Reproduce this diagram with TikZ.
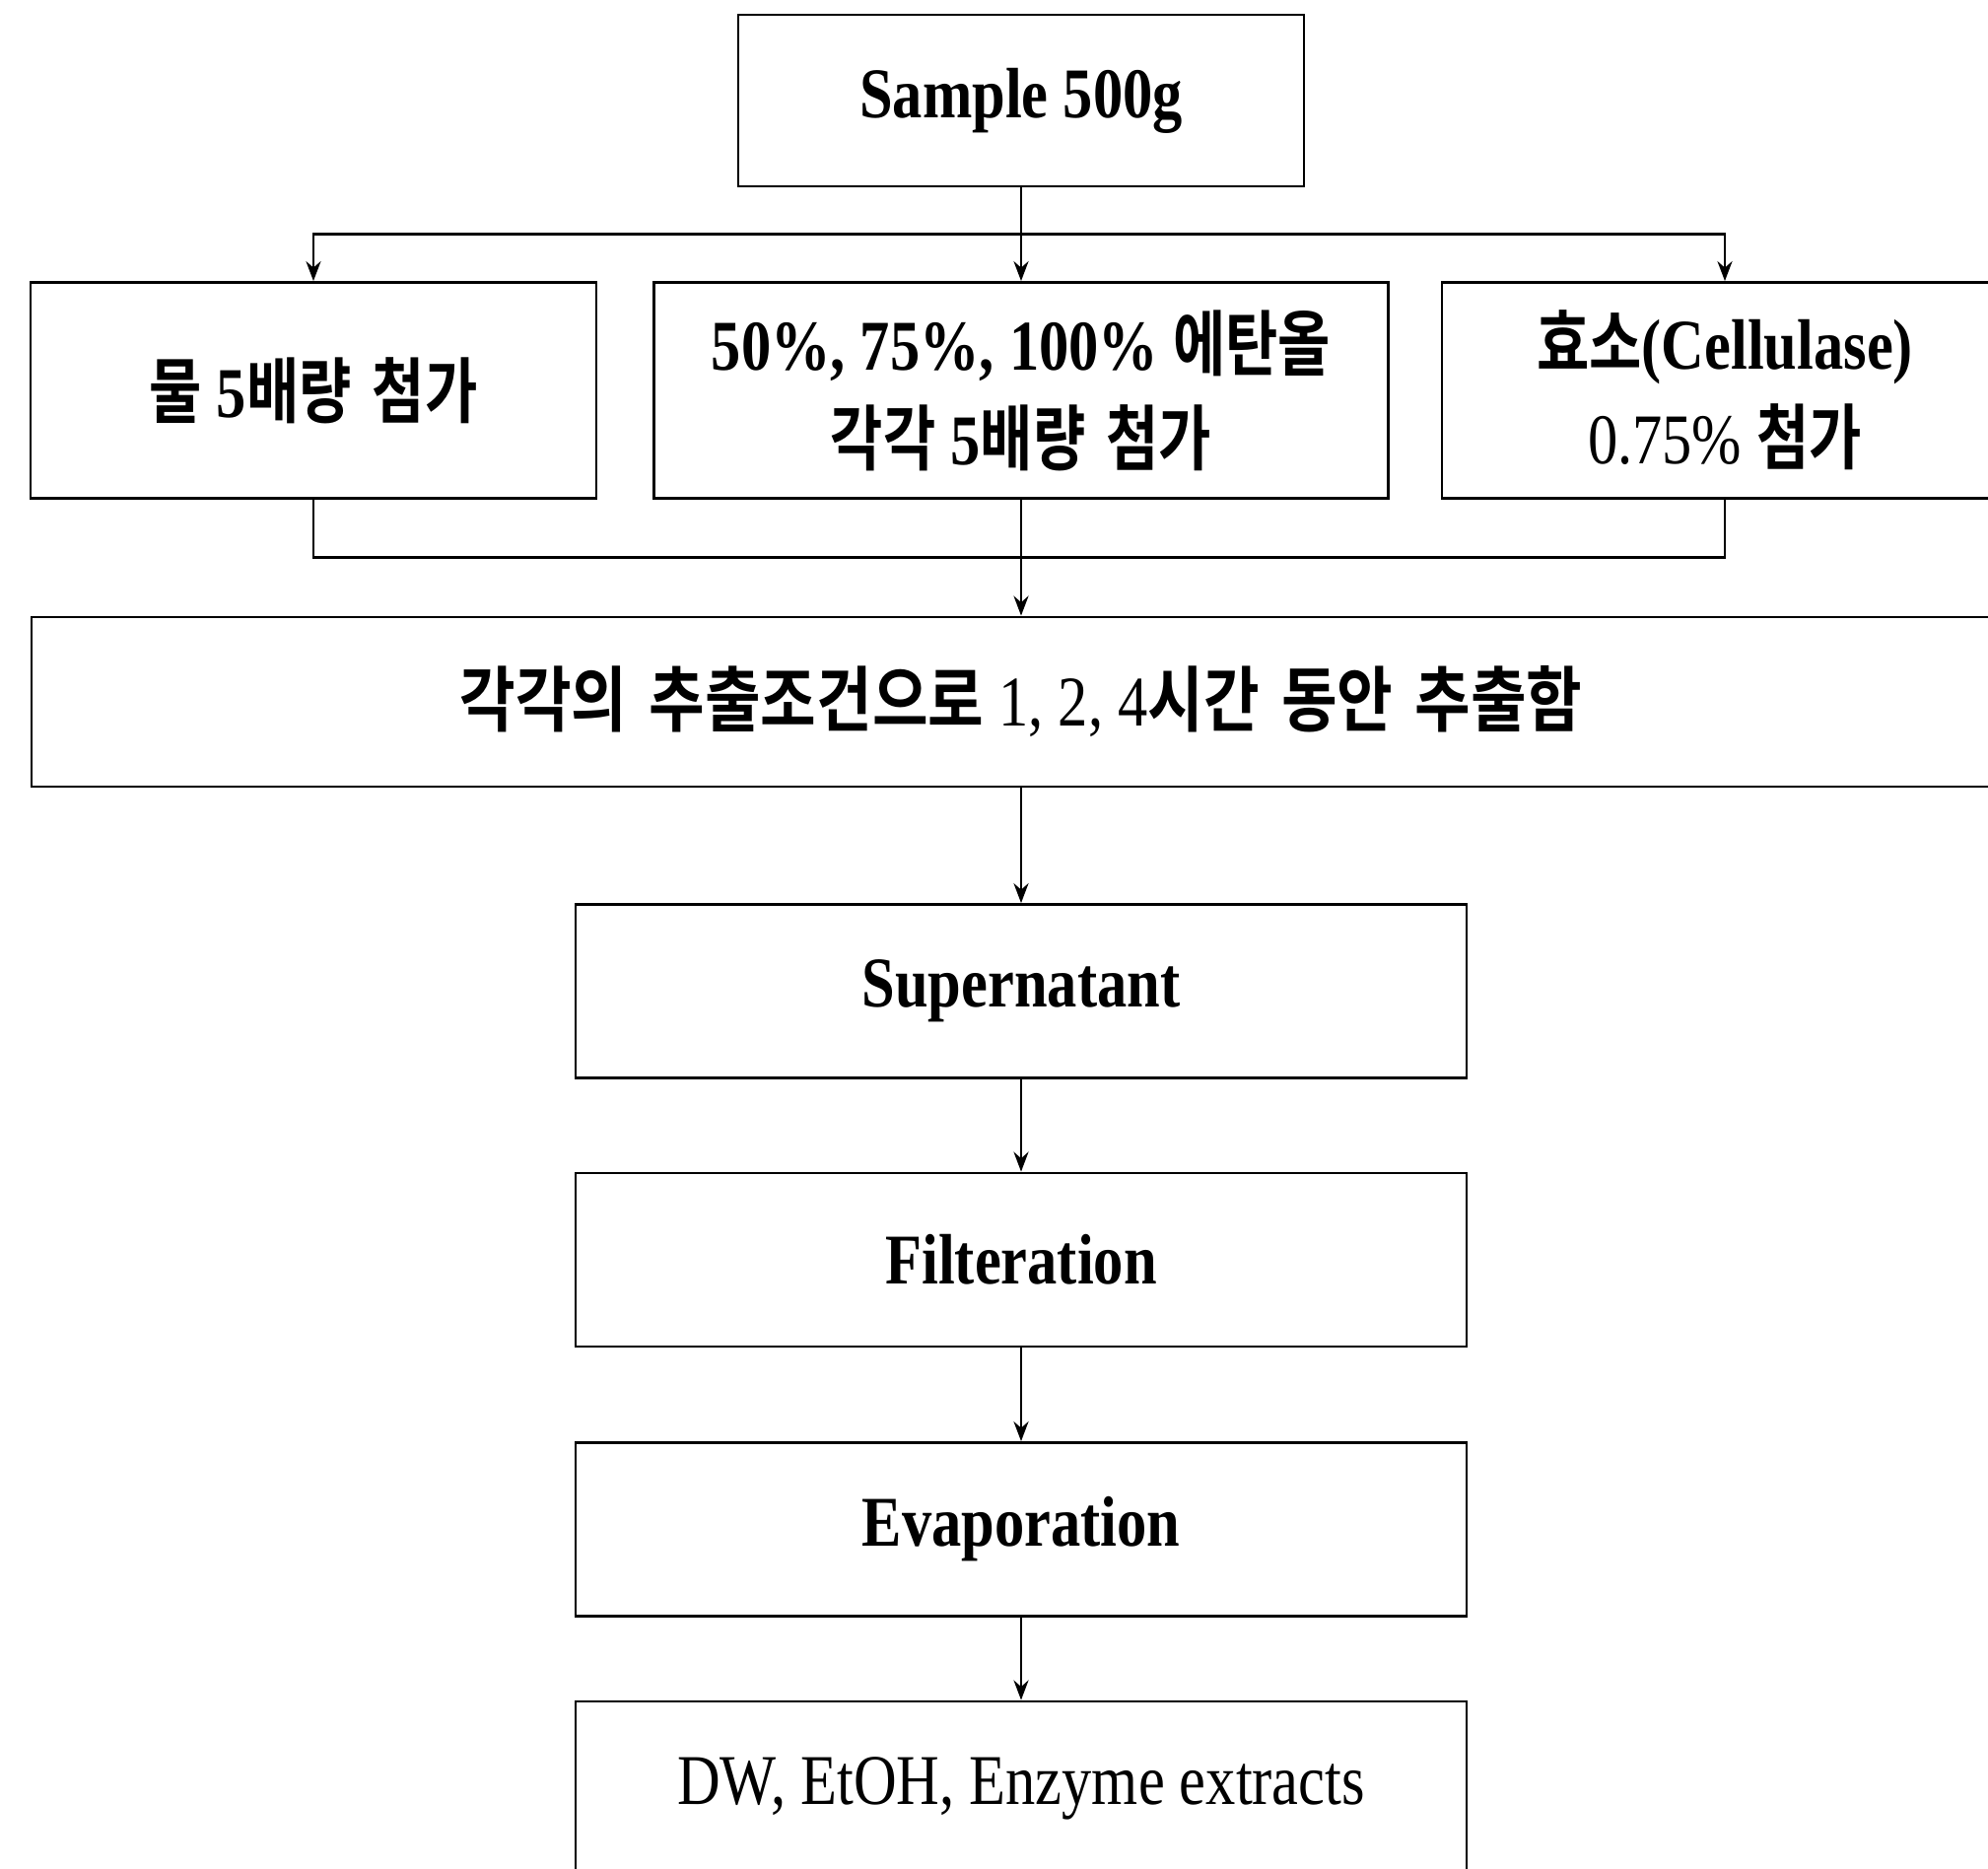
\documentclass[tikz,border=0pt]{standalone}
\usepackage{fontspec}
\setmainfont[FakeStretch=0.835]{Liberation Serif}
\newfontfamily\latb[FakeStretch=0.835]{Liberation Serif Bold}
\newfontfamily\kr[FakeStretch=0.8,WordSpace=1.6]{Noto Sans CJK KR Bold}
\newfontfamily\krwide[FakeStretch=0.85,WordSpace=1.6]{Noto Sans CJK KR Bold}
\usetikzlibrary{arrows.meta,calc}

\tikzset{
  flowbox/.style={draw, line width=0.8pt, align=center, inner sep=0pt,
    font=\fontsize{20.6}{27.3}\latb},
  arr/.style={line width=0.8pt, -{Stealth[length=2mm,width=1.5mm]}},
  link/.style={line width=0.8pt}
}

\begin{document}
\begin{tikzpicture}
    \clip (0,0) rectangle (20.17,18.96);
    % top and the three extraction solvents
    \node[flowbox, minimum width=5.74cm, minimum height=1.74cm] (sample) at (10.36,17.94) {Sample 500g};
    \node[flowbox, minimum width=5.74cm, minimum height=2.19cm] (water) at (3.18,15.0) {{\kr 물} 5{\kr 배량 첨가}};
    \node[flowbox, minimum width=7.45cm, minimum height=2.19cm] (ethanol) at (10.36,15.0) {50\%, 75\%, 100\% {\kr 에탄올}\\{\kr 각각} 5{\kr 배량 첨가}};
    \node[flowbox, minimum width=5.74cm, minimum height=2.19cm] (enzyme) at (17.5,15.0) {{\kr 효소}(Cellulase)\\{\rmfamily 0.75\%} {\kr 첨가}};
    \node[flowbox, minimum width=20.08cm, minimum height=1.72cm] (extract) at (10.36,11.84) {{\krwide 각각의 추출조건으로} {\rmfamily 1, 2, 4}{\krwide 시간 동안 추출함}};

    % lower chain
    \foreach \name/\lbl/\y in {super/Supernatant/8.905, filt/Filteration/6.18, evap/Evaporation/3.445} {
        \node[flowbox, minimum width=9.04cm, minimum height=1.76cm] (\name) at (10.36,\y) {\lbl};
    }
    \node[flowbox, minimum width=9.04cm, minimum height=1.76cm, font=\fontsize{20.6}{27.3}\rmfamily] (dw) at (10.36,0.82) {DW, EtOH, Enzyme extracts};

    % connectors
    \coordinate (split) at ($(sample.south)!0.5!(ethanol.north)$);
    \coordinate (merge) at ($(ethanol.south)!0.5!(extract.north)$);
    \draw[arr] (sample.south) -- (ethanol.north);
    \draw[arr] (split) -| (water.north);
    \draw[arr] (split) -| (enzyme.north);
    \draw[link] (water.south) |- (merge) -| (enzyme.south);
    \draw[arr] (ethanol.south) -- (extract.north);
    \foreach \a/\b in {extract/super, super/filt, filt/evap, evap/dw} {
        \draw[arr] (\a) -- (\b);
    }
\end{tikzpicture}
\end{document}
